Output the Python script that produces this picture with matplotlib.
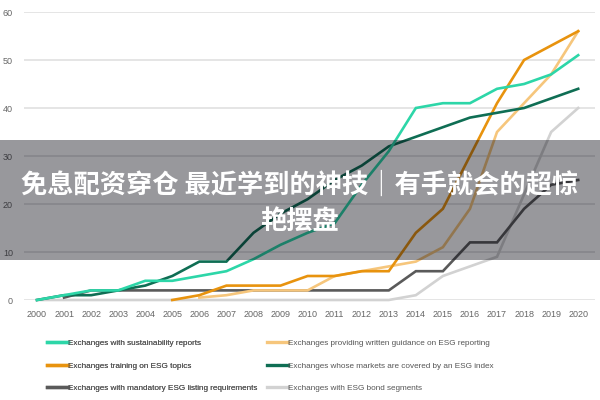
import matplotlib
matplotlib.use("Agg")
import matplotlib.pyplot as plt
from matplotlib.patches import Rectangle

years = list(range(2000, 2021))

sustainability = [0, 1, 2, 2, 4, 4, 5, 6, 8.5, 11.5, 14, 16, 24, 31, 40, 41, 41, 44, 45, 47, 51]
guidance = [None, None, None, None, None, None, 0.5, 1, 2, 2, 2, 5, 6, 7, 8, 11, 19, 35, 41, 47, 56]
training = [None, None, None, None, None, 0, 1, 3, 3, 3, 5, 5, 6, 6, 14, 19, 30, 41, 50, 53, 56]
esg_index = [0, 1, 1, 2, 3, 5, 8, 8, 14, 18, 21, 25, 28, 32, 34, 36, 38, 39, 40, 42, 44]
mandatory = [None, 0.5, 2, 2, 2, 2, 2, 2, 2, 2, 2, 2, 2, 2, 6, 6, 12, 12, 19, 24, 25]
bonds = [0, 0, 0, 0, 0, 0, 0, 0, 0, 0, 0, 0, 0, 0, 1, 5, 7, 9, 22, 35, 40]

series = [
    ("Exchanges with sustainability reports", sustainability, "#2DD6A8"),
    ("Exchanges training on ESG topics", training, "#E8930E"),
    ("Exchanges with mandatory ESG listing requirements", mandatory, "#5A5A5A"),
    ("Exchanges providing written guidance on ESG reporting", guidance, "#F6C67C"),
    ("Exchanges whose markets are covered by an ESG index", esg_index, "#0F6E54"),
    ("Exchanges with ESG bond segments", bonds, "#D2D2D2"),
]
draw_order = [5, 2, 3, 1, 4, 0]

yticks = [0, 10, 20, 30, 40, 50, 60]
banner_line1 = "免息配资穿仓 最近学到的神技｜有手就会的超惊"
banner_line2 = "艳摆盘"

small_font = ["Liberation Sans", "DejaVu Sans"]

fig = plt.figure(figsize=(6, 4), dpi=100)
ax = fig.add_axes([0.04, 0.25, 0.952, 0.72])

handles = {}
for i in draw_order:
    label, vals, col = series[i]
    xs = [y for y, v in zip(years, vals) if v is not None]
    vs = [v for v in vals if v is not None]
    ln, = ax.plot(xs, vs, color=col, lw=1.9, label=label, clip_on=False,
                  solid_joinstyle="miter", zorder=3)
    handles[i] = ln

ax.set_xlim(2000 - 13 / 27.05, 2020 + 17 / 27.05)
ax.set_ylim(0, 60)
ax.set_yticks(yticks)
ax.set_xticks(years)
ax.grid(axis="y", color="#E3E3E3", lw=1.3)
ax.set_axisbelow(True)
for s in ax.spines.values():
    s.set_visible(False)
ax.tick_params(length=0, colors="#666666", labelsize=6.5, pad=8)
ax.tick_params(axis="x", pad=7)
for t in ax.get_xticklabels() + ax.get_yticklabels():
    t.set_family(small_font)

def make_legend(idx, x0):
    leg = fig.legend([handles[i] for i in idx], [series[i][0] for i in idx],
                     ncol=1, loc="upper left", bbox_to_anchor=(x0, 1 - 339.5 / 400),
                     frameon=False, handlelength=2.6, handletextpad=0.0,
                     labelspacing=1.8, borderpad=0, borderaxespad=0,
                     prop={"family": small_font, "size": 5.9})
    for t in leg.get_texts():
        t.set_color("#555555")
    for l in leg.get_lines():
        l.set_linewidth(2.4)
    return leg

leg1 = make_legend([0, 1, 2], 47 / 600)
leg2 = make_legend([3, 4, 5], 267 / 600)
fig.add_artist(leg1)

# overlay banner
fig.patches.append(Rectangle((0, 1 - 260 / 400), 1, 120 / 400, transform=fig.transFigure,
                             facecolor="#05050F", alpha=0.41, edgecolor="none", zorder=10))
cjk = ["Noto Sans CJK SC", "DejaVu Sans"]
fig.text(0.5, 1 - 185 / 400, banner_line1, ha="center", va="center", color="white",
         fontsize=18.9, fontweight="bold", family=cjk, zorder=11)
fig.text(0.5, 1 - 221 / 400, banner_line2, ha="center", va="center", color="white",
         fontsize=18.9, fontweight="bold", family=cjk, zorder=11)

fig.savefig("out.png", dpi=100)
